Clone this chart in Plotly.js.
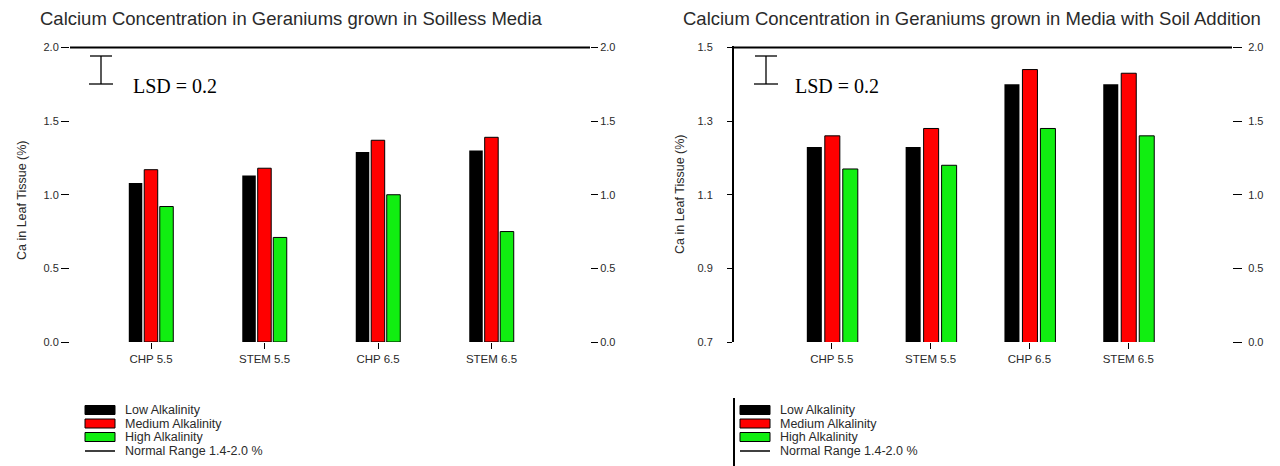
<!DOCTYPE html>
<html>
<head>
<meta charset="utf-8">
<script src="https://cdn.plot.ly/plotly-3.0.1.min.js"></script>
<style>
html,body{margin:0;padding:0;background:#fff;}
#chart{width:1280px;height:466px;}
</style>
</head>
<body>
<div id="chart"></div>
<script>
// ---------- data ----------
const categoriesLeft = ["CHP 5.5", "STEM 5.5", "CHP 6.5", "STEM 6.5"];
const categoriesRight = ["CHP 5.5", "STEM 5.5", "CHP 6.5", "STEM 6.5"];
const seriesNames = ["Low Alkalinity", "Medium Alkalinity", "High Alkalinity"];
const lowLeft  = [1.08, 1.13, 1.29, 1.30];
const medLeft  = [1.17, 1.18, 1.37, 1.39];
const highLeft = [0.92, 0.71, 1.00, 0.75];
const lowRight  = [1.23, 1.23, 1.40, 1.40];
const medRight  = [1.26, 1.28, 1.44, 1.43];
const highRight = [1.17, 1.18, 1.28, 1.26];
const normalLineLeft = 2.0;
const normalLineRight = 2.0;
const normalLabelLeft = "Normal Range 1.4-2.0 %";
const normalLabelRight = "Normal Range 1.4-2.0 %";
const titleLeft = "Calcium Concentration in Geraniums grown in Soilless Media";
const titleRight = "Calcium Concentration in Geraniums grown in Media with Soil Addition";
const yTitle = "Ca in Leaf Tissue (%)";
const lsdLabel = "LSD = 0.2";

// ---------- styling ----------
const colors = ["#000000", "#ff0000", "#11ee11"];
const W = 1280, H = 466;
const px = x => x / W;
const py = y => (H - y) / H;
const FONT = "Liberation Sans, Arial, sans-serif";
const SERIF = "Liberation Serif, Times New Roman, serif";
const txt = "#2a2a2a";

const leftSeries = [lowLeft, medLeft, highLeft];
const rightSeries = [lowRight, medRight, highRight];
const offL = [-0.196, -0.060, 0.077], wL = 0.119;
const offR = [-0.253, -0.071, 0.111], wR = 0.152;

const traces = [];
leftSeries.forEach((vals, i) => {
  traces.push({
    type: "bar", x: categoriesLeft, y: vals, name: seriesNames[i],
    xaxis: "x", yaxis: "y", offset: offL[i], width: wL,
    marker: {color: colors[i], line: {color: "#000", width: i === 0 ? 0 : 1}},
    showlegend: false, hoverinfo: "skip"
  });
});
rightSeries.forEach((vals, i) => {
  traces.push({
    type: "bar", x: categoriesRight, y: vals, name: seriesNames[i],
    xaxis: "x2", yaxis: "y3", offset: offR[i], width: wR,
    marker: {color: colors[i], line: {color: "#000", width: i === 0 ? 0 : 1}},
    showlegend: false, hoverinfo: "skip"
  });
});

const yDom = [py(342), py(46)];
const tickFont = {family: FONT, size: 11, color: txt};

const shapes = [];
const annotations = [];

// normal range lines
shapes.push({type: "line", xref: "x domain", yref: "y2", x0: 0, x1: 1,
  y0: normalLineLeft, y1: normalLineLeft, line: {color: "#000", width: 2}});
shapes.push({type: "line", xref: "x2 domain", yref: "y4", x0: 0, x1: 1,
  y0: normalLineRight, y1: normalLineRight, line: {color: "#000", width: 2}});

// LSD I-beams (graphic key)
function lsd(cx, textX) {
  shapes.push({type: "line", xref: "paper", yref: "paper", x0: px(cx), x1: px(cx), y0: py(56), y1: py(84), line: {color: "#000", width: 1.3}});
  shapes.push({type: "line", xref: "paper", yref: "paper", x0: px(cx - 11), x1: px(cx + 11), y0: py(56), y1: py(56), line: {color: "#000", width: 1.3}});
  shapes.push({type: "line", xref: "paper", yref: "paper", x0: px(cx - 12), x1: px(cx + 12), y0: py(84), y1: py(84), line: {color: "#000", width: 1.3}});
  annotations.push({xref: "paper", yref: "paper", x: px(textX), y: py(86), xanchor: "left", yanchor: "middle",
    text: lsdLabel, showarrow: false, font: {family: SERIF, size: 20, color: "#000"}});
}
lsd(101, 131);
lsd(766, 793);

// titles
annotations.push({xref: "paper", yref: "paper", x: px(291), y: py(18), xanchor: "center", yanchor: "middle",
  text: titleLeft, showarrow: false, font: {family: FONT, size: 18.5, color: txt}});
annotations.push({xref: "paper", yref: "paper", x: px(972), y: py(18), xanchor: "center", yanchor: "middle",
  text: titleRight, showarrow: false, font: {family: FONT, size: 18.5, color: txt}});
// y titles
annotations.push({xref: "paper", yref: "paper", x: px(22), y: py(200), xanchor: "center", yanchor: "middle",
  text: yTitle, textangle: -90, showarrow: false, font: {family: FONT, size: 12.5, color: txt}});
annotations.push({xref: "paper", yref: "paper", x: px(680), y: py(194), xanchor: "center", yanchor: "middle",
  text: yTitle, textangle: -90, showarrow: false, font: {family: FONT, size: 12.5, color: txt}});

// manual legends
function legend(x0, rows, names, lineName) {
  names.forEach((n, i) => {
    shapes.push({type: "rect", xref: "paper", yref: "paper", x0: px(x0), x1: px(x0 + 30),
      y0: py(rows[i] + 4.5), y1: py(rows[i] - 4.5), fillcolor: colors[i], line: {color: "#000", width: 1}});
    annotations.push({xref: "paper", yref: "paper", x: px(x0 + 38), y: py(rows[i]), xanchor: "left", yanchor: "middle",
      text: n, showarrow: false, font: {family: FONT, size: 12.5, color: txt}});
  });
  shapes.push({type: "line", xref: "paper", yref: "paper", x0: px(x0), x1: px(x0 + 30),
    y0: py(rows[3]), y1: py(rows[3]), line: {color: "#000", width: 1.5}});
  annotations.push({xref: "paper", yref: "paper", x: px(x0 + 38), y: py(rows[3]), xanchor: "left", yanchor: "middle",
    text: lineName, showarrow: false, font: {family: FONT, size: 12.5, color: txt}});
}
legend(85, [410, 423.5, 437, 451], seriesNames, normalLabelLeft);
legend(740, [410, 423.5, 437, 451], seriesNames, normalLabelRight);
shapes.push({type: "line", xref: "paper", yref: "paper", x0: px(734), x1: px(734), y0: py(398), y1: py(466), line: {color: "#000", width: 2}});

const xBase = {type: "category", showgrid: false, zeroline: false, showline: false,
  ticks: "outside", ticklen: 6, tickcolor: "#000", tickfont: {family: FONT, size: 11.5, color: txt}, fixedrange: true};
const yBase = {showgrid: false, zeroline: false, ticks: "outside", tickcolor: "#000",
  tickfont: tickFont, tickformat: ".1f", fixedrange: true};

const layout = {
  width: W, height: H,
  margin: {l: 0, r: 0, t: 0, b: 0},
  paper_bgcolor: "#fff", plot_bgcolor: "rgba(0,0,0,0)",
  barmode: "group", showlegend: false,
  xaxis: Object.assign({}, xBase, {domain: [px(70), px(590)], range: [-0.714, 3.868], anchor: "y"}),
  yaxis: Object.assign({}, yBase, {domain: yDom, range: [0, 2.01], dtick: 0.5, tick0: 0, ticklen: 8, showline: false, anchor: "x"}),
  yaxis2: Object.assign({}, yBase, {overlaying: "y", side: "right", anchor: "x", range: [0, 2.01], dtick: 0.5, tick0: 0, ticklen: 7, showline: false}),
  xaxis2: Object.assign({}, xBase, {domain: [px(734), px(1232)], range: [-0.99, 4.05], anchor: "y3"}),
  yaxis3: Object.assign({}, yBase, {domain: yDom, range: [0.7, 1.504], dtick: 0.2, tick0: 0.7, ticklen: 5, ticklabelstandoff: 12, showline: true, linecolor: "#000", linewidth: 2, anchor: "x2"}),
  yaxis4: Object.assign({}, yBase, {overlaying: "y3", side: "right", anchor: "x2", range: [0, 2.01], dtick: 0.5, tick0: 0, ticklen: 9, ticklabelstandoff: 4, showline: false}),
  shapes: shapes,
  annotations: annotations
};

Plotly.newPlot("chart", traces, layout, {displayModeBar: false, staticPlot: true});
</script>
</body>
</html>
